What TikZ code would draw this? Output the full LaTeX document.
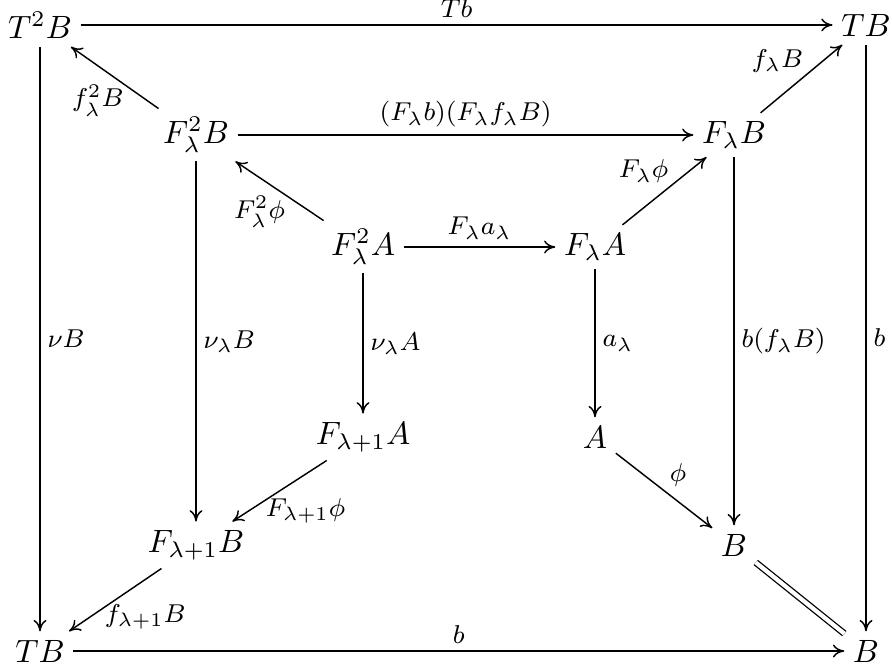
\documentclass[tikz,border=0pt]{standalone}
\usetikzlibrary{arrows.meta}
\begin{document}
\begin{tikzpicture}[x=0.31pt,y=-0.31pt,
  obj/.style={inner sep=2.5pt},
  lbl/.style={font=\footnotesize, inner sep=2pt},
  tipcm/.style={-{Computer Modern Rightarrow[length=3.5pt,width=4pt,line width=0.45pt]}},
  ar/.style={line width=0.7pt, tipcm},
  dar/.style={line width=0.45pt, tipcm},
  eqline/.style={line width=0.4pt, double distance=1.3pt}
]
\useasboundingbox (0,0) rectangle (892,670);
% objects
\node[obj] (T2B) at (40,25) {$T^2B$};
\node[obj] (TBt) at (866,25) {$TB$};
\node[obj] (F2B) at (196,135) {$F^2_\lambda B$};
\node[obj] (FB)  at (734,135) {$F_\lambda B$};
\node[obj] (F2A) at (363,247) {$F^2_\lambda A$};
\node[obj] (FA)  at (595,247) {$F_\lambda A$};
\node[obj] (F1A) at (363,437) {$F_{\lambda+1}A$};
\node[obj] (A)   at (595,437) {$A$};
\node[obj] (F1B) at (196,545) {$F_{\lambda+1}B$};
\node[obj] (Bm)  at (734,545) {$B$};
\node[obj] (TBb) at (40,651) {$TB$};
\node[obj] (Bc)  at (866,651) {$B$};
% horizontal and vertical arrows
\draw[ar] (T2B) -- node[lbl,above]{$Tb$} (TBt);
\draw[ar] (T2B) -- node[lbl,right]{$\nu B$} (TBb);
\draw[ar] (TBt) -- node[lbl,right]{$b$} (Bc);
\draw[ar] (TBb) -- node[lbl,above]{$b$} (Bc);
\draw[ar] (F2B) -- node[lbl,above]{$(F_\lambda b)(F_\lambda f_\lambda B)$} (FB);
\draw[ar] (F2B) -- node[lbl,right]{$\nu_\lambda B$} (F1B);
\draw[ar] (FB)  -- node[lbl,right]{$b(f_\lambda B)$} (Bm);
\draw[ar] (F2A) -- node[lbl,above]{$F_\lambda a_\lambda$} (FA);
\draw[ar] (F2A) -- node[lbl,right]{$\nu_\lambda A$} (F1A);
\draw[ar] (FA)  -- node[lbl,right]{$a_\lambda$} (A);
% diagonal arrows
\draw[dar] (F2B) -- node[lbl,shift={(-17,23)}]{$f^2_\lambda B$} (T2B);
\draw[dar] (F2A) -- node[lbl,shift={(-20,21)}]{$F^2_\lambda\phi$} (F2B);
\draw[dar] (FA)  -- node[lbl,shift={(-21,-20)}]{$F_\lambda\phi$} (FB);
\draw[dar] (FB)  -- node[lbl,shift={(-24,-18)}]{$f_\lambda B$} (TBt);
\draw[dar] (F1A) -- node[lbl,shift={(26,20)}]{$F_{\lambda+1}\phi$} (F1B);
\draw[dar] (F1B) -- node[lbl,shift={(30,17)}]{$f_{\lambda+1}B$} (TBb);
\draw[dar] (A)   -- node[lbl,shift={(14,-16)}]{$\phi$} (Bm);
\draw[eqline] (Bm) -- (Bc);
\end{tikzpicture}
\end{document}
